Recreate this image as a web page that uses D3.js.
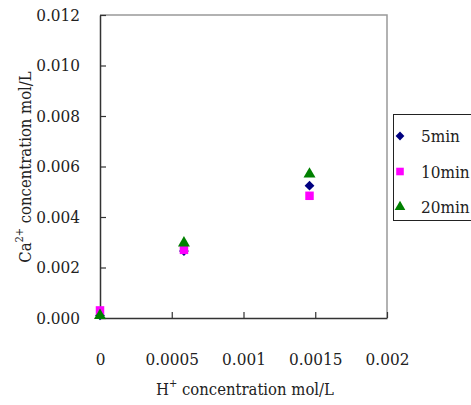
<!DOCTYPE html>
<html>
<head>
<meta charset="utf-8">
<script src="https://cdn.jsdelivr.net/npm/d3@7"></script>
<style>
  body { margin: 0; background: #fff; }
  svg text { font-family: "DejaVu Serif", serif; font-stretch: condensed; fill: #222; }
</style>
</head>
<body>
<div id="chart"></div>
<script>
// chart data
var hConc = [0, 0.000585, 0.00146];
var ca5min = [0.0001, 0.00265, 0.00524];
var ca10min = [0.0003, 0.0027, 0.00484];
var ca20min = [0.0001, 0.00297, 0.0057];
var seriesNames = ["5min", "10min", "20min"];
var xTicks = [0, 0.0005, 0.001, 0.0015, 0.002];
var yTicks = [0, 0.002, 0.004, 0.006, 0.008, 0.010, 0.012];

var width = 471;
var height = 405;
var serif = "'DejaVu Serif', serif";

// plot box
var plotLeft = 100, plotTop = 15, plotRight = 387, plotBottom = 318;

var svg = d3.select("#chart")
  .append("svg")
  .attr("width", width)
  .attr("height", height);

var xScale = d3.scaleLinear().domain([0, 0.002]).range([plotLeft, plotRight]);
var yScale = d3.scaleLinear().domain([0, 0.012]).range([plotBottom, plotTop]);

// plot area frame (top/right grey)
svg.append("path")
  .attr("d", "M" + plotLeft + "," + plotTop + "H" + plotRight + "V" + plotBottom)
  .attr("fill", "none")
  .attr("stroke", "#999")
  .attr("stroke-width", 1.5);

var xAxis = d3.axisBottom(xScale)
  .tickValues(xTicks)
  .tickSizeInner(-6)
  .tickSizeOuter(0)
  .tickPadding(35)
  .tickFormat(function(d) { return d === 0 ? "0" : String(+d.toFixed(4)); });

var yAxis = d3.axisLeft(yScale)
  .tickValues(yTicks)
  .tickSizeInner(-6)
  .tickSizeOuter(0)
  .tickPadding(20)
  .tickFormat(d3.format(".3f"));

var gx = svg.append("g")
  .attr("transform", "translate(0," + plotBottom + ")")
  .call(xAxis);

var gy = svg.append("g")
  .attr("transform", "translate(" + plotLeft + ",0)")
  .call(yAxis);

[gx, gy].forEach(function(g) {
  g.attr("font-family", serif);
  g.select(".domain").attr("stroke", "#333").attr("stroke-width", 1.5);
  g.selectAll(".tick line").attr("stroke", "#333").attr("stroke-width", 1.2);
  g.selectAll(".tick text")
    .attr("font-size", 17)
    .attr("font-family", serif)
    .attr("fill", "#222");
});

// axis titles
var xTitle = svg.append("text")
  .attr("x", 245)
  .attr("y", 395)
  .attr("text-anchor", "middle")
  .attr("font-family", serif)
  .attr("font-size", 16.5);
xTitle.append("tspan").text("H");
xTitle.append("tspan").attr("dy", -8).attr("font-size", 11).text("+");
xTitle.append("tspan").attr("dy", 8).text(" concentration mol/L");

var yTitle = svg.append("text")
  .attr("transform", "translate(31,167)rotate(-90)")
  .attr("text-anchor", "middle")
  .attr("font-family", serif)
  .attr("font-size", 16.5);
yTitle.append("tspan").text("Ca");
yTitle.append("tspan").attr("dy", -8).attr("font-size", 11).text("2+");
yTitle.append("tspan").attr("dy", 8).text(" concentration mol/L");

// series (diamond = square turned 45deg)
var series = [
  { name: seriesNames[0], values: ca5min, color: "#000080", shape: d3.symbolSquare, size: 48, rot: 45 },
  { name: seriesNames[1], values: ca10min, color: "#ff00ff", shape: d3.symbolSquare, size: 72, rot: 0 },
  { name: seriesNames[2], values: ca20min, color: "#008000", shape: d3.symbolTriangle, size: 62, rot: 0 }
];

series.forEach(function(s) {
  svg.append("g")
    .selectAll("path")
    .data(s.values)
    .enter()
    .append("path")
    .attr("d", d3.symbol().type(s.shape).size(s.size))
    .attr("transform", function(d, i) {
      return "translate(" + xScale(hConc[i]) + "," + yScale(d) + ")rotate(" + s.rot + ")";
    })
    .attr("fill", s.color);
});

// legend
var legend = svg.append("g");
legend.append("rect")
  .attr("x", 393.5)
  .attr("y", 114.5)
  .attr("width", 90)
  .attr("height", 106)
  .attr("fill", "#fff")
  .attr("stroke", "#222")
  .attr("stroke-width", 1);

series.forEach(function(s, i) {
  var cy = 136 + i * 35.5;
  legend.append("path")
    .attr("d", d3.symbol().type(s.shape).size(s.size * 0.8))
    .attr("transform", "translate(400," + cy + ")rotate(" + s.rot + ")")
    .attr("fill", s.color);
  legend.append("text")
    .attr("x", 421)
    .attr("y", cy + 6)
    .attr("font-family", serif)
    .attr("font-size", 17)
    .text(s.name);
});
</script>
</body>
</html>
